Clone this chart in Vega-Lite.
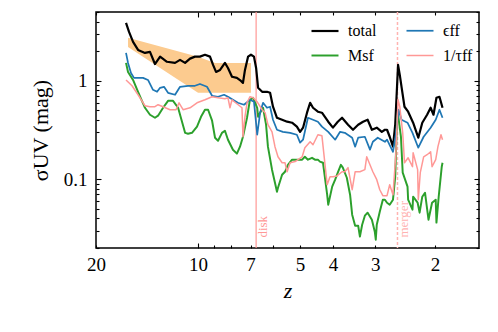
{
  "$schema": "https://vega.github.io/schema/vega-lite/v6.json",
  "width": 383,
  "height": 236,
  "autosize": {"type": "none"},
  "padding": {"left": 96, "top": 12, "right": 19, "bottom": 84},
  "background": "white",
  "config": {
    "view": {"stroke": "black", "strokeWidth": 1.5},
    "font": "Liberation Serif",
    "axis": {"grid": false, "domain": false, "tickColor": "black", "tickWidth": 1.1, "labelColor": "black", "titleColor": "black", "labelFont": "Liberation Serif", "titleFont": "Liberation Serif", "labelFontSize": 19, "titleFontSize": 22, "titleFontWeight": "normal", "labelFlush": false, "labelOverlap": false, "labelBound": false}
  },
  "datasets": {
    "band": [
      {"z": 16.09, "lo": 2.21, "hi": 2.73},
      {"z": 10.0, "lo": 0.755, "hi": 1.76},
      {"z": 8.91, "lo": 0.755, "hi": 1.52},
      {"z": 6.98, "lo": 0.755, "hi": 1.52}
    ],
    "marks": [
      {"k": "disk", "z": 6.74, "v": 0.0255},
      {"k": "merger", "z": 2.58, "v": 0.0255}
    ],
    "series": [
      {"s":"total","z":16.31,"v":3.88},{"s":"total","z":15.98,"v":3.14},{"s":"total","z":15.55,"v":2.49},{"s":"total","z":15.03,"v":2.06},{"s":"total","z":14.34,"v":1.92},{"s":"total","z":13.86,"v":1.97},{"s":"total","z":13.40,"v":1.48},{"s":"total","z":12.94,"v":1.76},{"s":"total","z":12.35,"v":1.56},{"s":"total","z":11.69,"v":1.52},{"s":"total","z":11.30,"v":1.63},{"s":"total","z":10.92,"v":1.52},{"s":"total","z":10.56,"v":1.68},{"s":"total","z":10.21,"v":1.76},{"s":"total","z":9.87,"v":1.76},{"s":"total","z":9.54,"v":1.84},{"s":"total","z":9.22,"v":1.76},{"s":"total","z":9.03,"v":1.45},{"s":"total","z":8.85,"v":1.23},{"s":"total","z":8.61,"v":1.29},{"s":"total","z":8.33,"v":1.52},{"s":"total","z":8.16,"v":1.35},{"s":"total","z":7.94,"v":1.10},{"s":"total","z":7.68,"v":1.07},{"s":"total","z":7.47,"v":0.996},{"s":"total","z":7.37,"v":0.951},{"s":"total","z":7.27,"v":1.29},{"s":"total","z":7.12,"v":1.76},{"s":"total","z":6.98,"v":1.84},{"s":"total","z":6.84,"v":1.76},{"s":"total","z":6.74,"v":1.35},{"s":"total","z":6.65,"v":0.849},{"s":"total","z":6.47,"v":0.773},{"s":"total","z":6.26,"v":0.773},{"s":"total","z":6.13,"v":0.755},{"s":"total","z":6.01,"v":0.545},{"s":"total","z":5.85,"v":0.421},{"s":"total","z":5.65,"v":0.402},{"s":"total","z":5.46,"v":0.384},{"s":"total","z":5.28,"v":0.375},{"s":"total","z":5.11,"v":0.342},{"s":"total","z":5.00,"v":0.303},{"s":"total","z":4.90,"v":0.334},{"s":"total","z":4.77,"v":0.474},{"s":"total","z":4.67,"v":0.598},{"s":"total","z":4.58,"v":0.532},{"s":"total","z":4.43,"v":0.485},{"s":"total","z":4.31,"v":0.474},{"s":"total","z":4.13,"v":0.384},{"s":"total","z":4.00,"v":0.334},{"s":"total","z":3.87,"v":0.384},{"s":"total","z":3.76,"v":0.421},{"s":"total","z":3.61,"v":0.358},{"s":"total","z":3.49,"v":0.318},{"s":"total","z":3.37,"v":0.358},{"s":"total","z":3.26,"v":0.384},{"s":"total","z":3.16,"v":0.402},{"s":"total","z":3.07,"v":0.318},{"s":"total","z":2.97,"v":0.334},{"s":"total","z":2.87,"v":0.303},{"s":"total","z":2.81,"v":0.318},{"s":"total","z":2.77,"v":0.318},{"s":"total","z":2.72,"v":0.270},{"s":"total","z":2.66,"v":0.214},{"s":"total","z":2.62,"v":0.358},{"s":"total","z":2.57,"v":1.45},{"s":"total","z":2.54,"v":1.15},{"s":"total","z":2.51,"v":0.869},{"s":"total","z":2.46,"v":0.545},{"s":"total","z":2.40,"v":0.485},{"s":"total","z":2.32,"v":0.375},{"s":"total","z":2.24,"v":0.264},{"s":"total","z":2.18,"v":0.375},{"s":"total","z":2.11,"v":0.452},{"s":"total","z":2.06,"v":0.532},{"s":"total","z":2.02,"v":0.452},{"s":"total","z":1.98,"v":0.672},{"s":"total","z":1.94,"v":0.688},{"s":"total","z":1.90,"v":0.532},
      {"s":"Msf","z":16.31,"v":1.52},{"s":"Msf","z":16.09,"v":1.23},{"s":"Msf","z":15.55,"v":1.02},{"s":"Msf","z":15.03,"v":0.773},{"s":"Msf","z":14.34,"v":0.532},{"s":"Msf","z":13.86,"v":0.452},{"s":"Msf","z":13.40,"v":0.421},{"s":"Msf","z":13.12,"v":0.442},{"s":"Msf","z":12.68,"v":0.532},{"s":"Msf","z":12.26,"v":0.626},{"s":"Msf","z":11.85,"v":0.626},{"s":"Msf","z":11.45,"v":0.532},{"s":"Msf","z":11.15,"v":0.384},{"s":"Msf","z":10.92,"v":0.296},{"s":"Msf","z":10.70,"v":0.290},{"s":"Msf","z":10.42,"v":0.296},{"s":"Msf","z":10.07,"v":0.342},{"s":"Msf","z":9.80,"v":0.431},{"s":"Msf","z":9.54,"v":0.508},{"s":"Msf","z":9.34,"v":0.508},{"s":"Msf","z":9.09,"v":0.393},{"s":"Msf","z":8.91,"v":0.264},{"s":"Msf","z":8.73,"v":0.246},{"s":"Msf","z":8.50,"v":0.296},{"s":"Msf","z":8.33,"v":0.311},{"s":"Msf","z":8.16,"v":0.252},{"s":"Msf","z":7.89,"v":0.1995},{"s":"Msf","z":7.68,"v":0.182},{"s":"Msf","z":7.52,"v":0.214},{"s":"Msf","z":7.37,"v":0.270},{"s":"Msf","z":7.17,"v":0.421},{"s":"Msf","z":7.03,"v":0.641},{"s":"Msf","z":6.88,"v":0.672},{"s":"Msf","z":6.69,"v":0.532},{"s":"Msf","z":6.65,"v":0.431},{"s":"Msf","z":6.56,"v":0.474},{"s":"Msf","z":6.43,"v":0.532},{"s":"Msf","z":6.30,"v":0.358},{"s":"Msf","z":6.22,"v":0.214},{"s":"Msf","z":6.05,"v":0.125},{"s":"Msf","z":5.93,"v":0.0922},{"s":"Msf","z":5.85,"v":0.0746},{"s":"Msf","z":5.81,"v":0.082},{"s":"Msf","z":5.65,"v":0.111},{"s":"Msf","z":5.54,"v":0.119},{"s":"Msf","z":5.43,"v":0.140},{"s":"Msf","z":5.28,"v":0.158},{"s":"Msf","z":5.17,"v":0.158},{"s":"Msf","z":5.07,"v":0.158},{"s":"Msf","z":4.93,"v":0.158},{"s":"Msf","z":4.84,"v":0.169},{"s":"Msf","z":4.74,"v":0.158},{"s":"Msf","z":4.61,"v":0.165},{"s":"Msf","z":4.52,"v":0.158},{"s":"Msf","z":4.43,"v":0.158},{"s":"Msf","z":4.37,"v":0.151},{"s":"Msf","z":4.28,"v":0.147},{"s":"Msf","z":4.16,"v":0.0696},{"s":"Msf","z":4.13,"v":0.0551},{"s":"Msf","z":4.02,"v":0.084},{"s":"Msf","z":3.94,"v":0.0989},{"s":"Msf","z":3.87,"v":0.1165},{"s":"Msf","z":3.79,"v":0.140},{"s":"Msf","z":3.74,"v":0.131},{"s":"Msf","z":3.64,"v":0.1035},{"s":"Msf","z":3.56,"v":0.0696},{"s":"Msf","z":3.51,"v":0.0436},{"s":"Msf","z":3.44,"v":0.0337},{"s":"Msf","z":3.37,"v":0.0337},{"s":"Msf","z":3.33,"v":0.0261},{"s":"Msf","z":3.28,"v":0.0345},{"s":"Msf","z":3.22,"v":0.0426},{"s":"Msf","z":3.16,"v":0.0457},{"s":"Msf","z":3.07,"v":0.0388},{"s":"Msf","z":3.01,"v":0.0293},{"s":"Msf","z":2.99,"v":0.0243},{"s":"Msf","z":2.97,"v":0.0345},{"s":"Msf","z":2.91,"v":0.0468},{"s":"Msf","z":2.85,"v":0.0619},{"s":"Msf","z":2.81,"v":0.0619},{"s":"Msf","z":2.77,"v":0.0577},{"s":"Msf","z":2.72,"v":0.0551},{"s":"Msf","z":2.66,"v":0.0619},{"s":"Msf","z":2.62,"v":0.106},{"s":"Msf","z":2.59,"v":0.375},{"s":"Msf","z":2.57,"v":0.452},{"s":"Msf","z":2.52,"v":0.270},{"s":"Msf","z":2.49,"v":0.1165},{"s":"Msf","z":2.41,"v":0.084},{"s":"Msf","z":2.40,"v":0.0619},{"s":"Msf","z":2.33,"v":0.049},{"s":"Msf","z":2.32,"v":0.0664},{"s":"Msf","z":2.25,"v":0.0577},{"s":"Msf","z":2.22,"v":0.0457},{"s":"Msf","z":2.18,"v":0.0664},{"s":"Msf","z":2.14,"v":0.0729},{"s":"Msf","z":2.09,"v":0.0388},{"s":"Msf","z":2.04,"v":0.0577},{"s":"Msf","z":1.99,"v":0.0619},{"s":"Msf","z":1.98,"v":0.0362},{"s":"Msf","z":1.95,"v":0.0664},{"s":"Msf","z":1.91,"v":0.134},{"s":"Msf","z":1.90,"v":0.147},
      {"s":"ϵff","z":16.31,"v":1.92},{"s":"ϵff","z":16.09,"v":1.52},{"s":"ϵff","z":15.77,"v":1.20},{"s":"ϵff","z":15.45,"v":1.07},{"s":"ϵff","z":14.53,"v":1.07},{"s":"ϵff","z":14.05,"v":1.02},{"s":"ϵff","z":13.58,"v":0.810},{"s":"ϵff","z":13.21,"v":0.773},{"s":"ϵff","z":12.94,"v":0.849},{"s":"ϵff","z":12.60,"v":0.869},{"s":"ϵff","z":12.26,"v":0.755},{"s":"ϵff","z":11.69,"v":0.721},{"s":"ϵff","z":11.30,"v":0.869},{"s":"ϵff","z":10.70,"v":0.890},{"s":"ϵff","z":10.21,"v":0.890},{"s":"ϵff","z":9.87,"v":0.929},{"s":"ϵff","z":9.41,"v":0.869},{"s":"ϵff","z":9.09,"v":0.704},{"s":"ϵff","z":8.73,"v":0.688},{"s":"ϵff","z":8.38,"v":0.721},{"s":"ϵff","z":8.16,"v":0.688},{"s":"ϵff","z":7.89,"v":0.641},{"s":"ϵff","z":7.63,"v":0.598},{"s":"ϵff","z":7.32,"v":0.571},{"s":"ϵff","z":7.03,"v":0.641},{"s":"ϵff","z":6.84,"v":0.612},{"s":"ϵff","z":6.69,"v":0.283},{"s":"ϵff","z":6.56,"v":0.474},{"s":"ϵff","z":6.43,"v":0.598},{"s":"ϵff","z":6.26,"v":0.532},{"s":"ϵff","z":6.13,"v":0.545},{"s":"ϵff","z":6.01,"v":0.402},{"s":"ϵff","z":5.85,"v":0.318},{"s":"ϵff","z":5.62,"v":0.303},{"s":"ϵff","z":5.35,"v":0.296},{"s":"ϵff","z":5.11,"v":0.283},{"s":"ϵff","z":5.00,"v":0.235},{"s":"ϵff","z":4.90,"v":0.252},{"s":"ϵff","z":4.74,"v":0.421},{"s":"ϵff","z":4.58,"v":0.402},{"s":"ϵff","z":4.43,"v":0.384},{"s":"ϵff","z":4.31,"v":0.342},{"s":"ϵff","z":4.13,"v":0.303},{"s":"ϵff","z":3.94,"v":0.252},{"s":"ϵff","z":3.81,"v":0.303},{"s":"ϵff","z":3.69,"v":0.296},{"s":"ϵff","z":3.51,"v":0.264},{"s":"ϵff","z":3.44,"v":0.214},{"s":"ϵff","z":3.37,"v":0.264},{"s":"ϵff","z":3.22,"v":0.270},{"s":"ϵff","z":3.11,"v":0.1995},{"s":"ϵff","z":3.05,"v":0.240},{"s":"ϵff","z":2.95,"v":0.264},{"s":"ϵff","z":2.81,"v":0.240},{"s":"ϵff","z":2.77,"v":0.252},{"s":"ϵff","z":2.66,"v":0.190},{"s":"ϵff","z":2.61,"v":0.283},{"s":"ϵff","z":2.56,"v":0.508},{"s":"ϵff","z":2.51,"v":0.402},{"s":"ϵff","z":2.41,"v":0.375},{"s":"ϵff","z":2.33,"v":0.296},{"s":"ϵff","z":2.24,"v":0.209},{"s":"ϵff","z":2.16,"v":0.270},{"s":"ϵff","z":2.06,"v":0.334},{"s":"ϵff","z":1.99,"v":0.402},{"s":"ϵff","z":1.94,"v":0.508},{"s":"ϵff","z":1.90,"v":0.421},
      {"s":"1/τff","z":16.31,"v":1.02},{"s":"1/τff","z":15.66,"v":0.890},{"s":"1/τff","z":15.03,"v":0.721},{"s":"1/τff","z":14.34,"v":0.558},{"s":"1/τff","z":13.86,"v":0.545},{"s":"1/τff","z":13.40,"v":0.545},{"s":"1/τff","z":13.12,"v":0.571},{"s":"1/τff","z":12.68,"v":0.545},{"s":"1/τff","z":12.10,"v":0.508},{"s":"1/τff","z":11.61,"v":0.508},{"s":"1/τff","z":11.38,"v":0.598},{"s":"1/τff","z":11.07,"v":0.508},{"s":"1/τff","z":10.56,"v":0.532},{"s":"1/τff","z":10.07,"v":0.598},{"s":"1/τff","z":9.54,"v":0.641},{"s":"1/τff","z":9.09,"v":0.688},{"s":"1/τff","z":8.73,"v":0.672},{"s":"1/τff","z":8.33,"v":0.657},{"s":"1/τff","z":8.16,"v":0.672},{"s":"1/τff","z":8.05,"v":0.532},{"s":"1/τff","z":7.94,"v":0.641},{"s":"1/τff","z":7.68,"v":0.584},{"s":"1/τff","z":7.42,"v":0.532},{"s":"1/τff","z":7.37,"v":0.270},{"s":"1/τff","z":7.27,"v":0.431},{"s":"1/τff","z":7.17,"v":0.598},{"s":"1/τff","z":7.03,"v":0.688},{"s":"1/τff","z":6.88,"v":0.672},{"s":"1/τff","z":6.69,"v":0.612},{"s":"1/τff","z":6.47,"v":0.508},{"s":"1/τff","z":6.34,"v":0.474},{"s":"1/τff","z":6.22,"v":0.358},{"s":"1/τff","z":6.05,"v":0.303},{"s":"1/τff","z":5.93,"v":0.214},{"s":"1/τff","z":5.81,"v":0.169},{"s":"1/τff","z":5.65,"v":0.147},{"s":"1/τff","z":5.54,"v":0.147},{"s":"1/τff","z":5.46,"v":0.119},{"s":"1/τff","z":5.35,"v":0.147},{"s":"1/τff","z":5.17,"v":0.151},{"s":"1/τff","z":5.07,"v":0.158},{"s":"1/τff","z":4.93,"v":0.169},{"s":"1/τff","z":4.84,"v":0.209},{"s":"1/τff","z":4.67,"v":0.240},{"s":"1/τff","z":4.58,"v":0.224},{"s":"1/τff","z":4.43,"v":0.283},{"s":"1/τff","z":4.31,"v":0.276},{"s":"1/τff","z":4.22,"v":0.140},{"s":"1/τff","z":4.16,"v":0.088},{"s":"1/τff","z":4.08,"v":0.106},{"s":"1/τff","z":4.00,"v":0.106},{"s":"1/τff","z":3.89,"v":0.108},{"s":"1/τff","z":3.76,"v":0.119},{"s":"1/τff","z":3.69,"v":0.119},{"s":"1/τff","z":3.61,"v":0.131},{"s":"1/τff","z":3.51,"v":0.0782},{"s":"1/τff","z":3.44,"v":0.119},{"s":"1/τff","z":3.33,"v":0.119},{"s":"1/τff","z":3.22,"v":0.125},{"s":"1/τff","z":3.18,"v":0.169},{"s":"1/τff","z":3.11,"v":0.140},{"s":"1/τff","z":3.05,"v":0.119},{"s":"1/τff","z":2.97,"v":0.0989},{"s":"1/τff","z":2.91,"v":0.0782},{"s":"1/τff","z":2.85,"v":0.068},{"s":"1/τff","z":2.77,"v":0.068},{"s":"1/τff","z":2.72,"v":0.088},{"s":"1/τff","z":2.66,"v":0.0696},{"s":"1/τff","z":2.61,"v":0.1774},{"s":"1/τff","z":2.57,"v":0.641},{"s":"1/τff","z":2.54,"v":0.545},{"s":"1/τff","z":2.49,"v":0.296},{"s":"1/τff","z":2.46,"v":0.147},{"s":"1/τff","z":2.40,"v":0.165},{"s":"1/τff","z":2.33,"v":0.134},{"s":"1/τff","z":2.32,"v":0.186},{"s":"1/τff","z":2.25,"v":0.125},{"s":"1/τff","z":2.24,"v":0.0619},{"s":"1/τff","z":2.21,"v":0.1165},{"s":"1/τff","z":2.16,"v":0.169},{"s":"1/τff","z":2.11,"v":0.1774},{"s":"1/τff","z":2.06,"v":0.190},{"s":"1/τff","z":2.04,"v":0.134},{"s":"1/τff","z":1.99,"v":0.158},{"s":"1/τff","z":1.96,"v":0.214},{"s":"1/τff","z":1.92,"v":0.283},{"s":"1/τff","z":1.90,"v":0.252}
    ]
  },
  "layer": [
    {
      "data": {"name": "band"},
      "mark": {"type": "area", "color": "#fccb8f", "opacity": 1},
      "encoding": {
        "x": {"field": "z", "type": "quantitative", "scale": {"type": "log", "domain": [1.483, 20], "reverse": true, "nice": false},
          "axis": {"orient": "top", "values": [20, 10, 9, 8, 7, 6, 5, 4, 3, 2], "labels": false, "title": null, "tickSize": {"condition": {"test": "datum.value == 10", "value": -5}, "value": -3}}},
        "y": {"field": "lo", "type": "quantitative", "scale": {"type": "log", "domain": [0.02, 5], "nice": false},
          "axis": {"orient": "right", "values": [0.02, 0.03, 0.04, 0.05, 0.06, 0.07, 0.08, 0.09, 0.1, 0.2, 0.3, 0.4, 0.5, 0.6, 0.7, 0.8, 0.9, 1, 2, 3, 4, 5], "labels": false, "title": null, "tickSize": {"condition": {"test": "datum.value == 1 || datum.value == 0.1", "value": -5}, "value": -3}}},
        "y2": {"field": "hi"}
      }
    },
    {
      "data": {"name": "marks"},
      "transform": [{"filter": "datum.k == 'disk'"}],
      "mark": {"type": "rule", "color": "#ff9896", "strokeWidth": 1.2},
      "encoding": {
        "x": {"field": "z", "type": "quantitative", "scale": {"type": "log", "domain": [1.483, 20], "reverse": true, "nice": false}, "axis": null}
      }
    },
    {
      "data": {"name": "marks"},
      "transform": [{"filter": "datum.k == 'merger'"}],
      "mark": {"type": "rule", "color": "#ffb3b1", "strokeWidth": 1.5, "strokeDash": [3, 2]},
      "encoding": {
        "x": {"field": "z", "type": "quantitative", "scale": {"type": "log", "domain": [1.483, 20], "reverse": true, "nice": false}, "axis": null}
      }
    },
    {
      "data": {"name": "series"},
      "mark": {"type": "line", "strokeJoin": "round"},
      "encoding": {
        "x": {"field": "z", "type": "quantitative", "scale": {"type": "log", "domain": [1.483, 20], "reverse": true, "nice": false},
          "axis": {"orient": "bottom", "values": [20, 10, 9, 8, 7, 6, 5, 4, 3, 2], "title": "z", "titleFontStyle": "italic", "titlePadding": 6,
            "labelExpr": "datum.value == 9 || datum.value == 8 || datum.value == 6 ? '' : '' + datum.value",
            "tickSize": {"condition": {"test": "datum.value == 10", "value": -5}, "value": -3},
            "labelPadding": {"condition": {"test": "datum.value == 10", "value": 12.5}, "value": 10.5}}},
        "y": {"field": "v", "type": "quantitative", "scale": {"type": "log", "domain": [0.02, 5], "nice": false},
          "axis": {"orient": "left", "values": [0.02, 0.03, 0.04, 0.05, 0.06, 0.07, 0.08, 0.09, 0.1, 0.2, 0.3, 0.4, 0.5, 0.6, 0.7, 0.8, 0.9, 1, 2, 3, 4, 5], "title": "σUV (mag)", "titlePadding": 11,
            "labelExpr": "datum.value == 1 ? '1' : (datum.value == 0.1 ? '0.1' : '')",
            "tickSize": {"condition": {"test": "datum.value == 1 || datum.value == 0.1", "value": -5}, "value": -3},
            "labelPadding": 14}},
        "color": {"field": "s", "type": "nominal", "scale": {"domain": ["total", "Msf", "ϵff", "1/τff"], "range": ["#000000", "#2ca02c", "#1f77b4", "#ff9896"]},
          "legend": {"orient": "none", "legendX": 214, "legendY": 4, "columns": 2, "title": null, "symbolType": "stroke", "symbolSize": 729, "labelFontSize": 16, "labelFont": "Liberation Serif", "labelOffset": 8, "columnPadding": 26, "rowPadding": 2, "padding": 0, "labelColor": "black"}},
        "strokeWidth": {"field": "s", "type": "nominal", "scale": {"domain": ["total", "Msf", "ϵff", "1/τff"], "range": [2.2, 1.5, 1.5, 1.5]},
          "legend": {"orient": "none", "legendX": 214, "legendY": 4, "columns": 2, "title": null, "symbolType": "stroke", "symbolSize": 729, "labelFontSize": 16, "labelFont": "Liberation Serif", "labelOffset": 8, "columnPadding": 26, "rowPadding": 2, "padding": 0, "labelColor": "black"}}
      }
    },
    {
      "data": {"name": "marks"},
      "mark": {"type": "text", "angle": 270, "align": "left", "baseline": "top", "font": "Liberation Serif", "fontSize": 13, "dy": 1},
      "encoding": {
        "x": {"field": "z", "type": "quantitative", "scale": {"type": "log", "domain": [1.483, 20], "reverse": true, "nice": false}, "axis": null},
        "y": {"field": "v", "type": "quantitative", "scale": {"type": "log", "domain": [0.02, 5], "nice": false}, "axis": null},
        "text": {"field": "k"},
        "color": {"condition": {"test": "datum.k == 'disk'", "value": "#ff9896"}, "value": "#ffb3b1"}
      }
    }
  ],
  "resolve": {"axis": {"x": "independent", "y": "independent"}}
}
